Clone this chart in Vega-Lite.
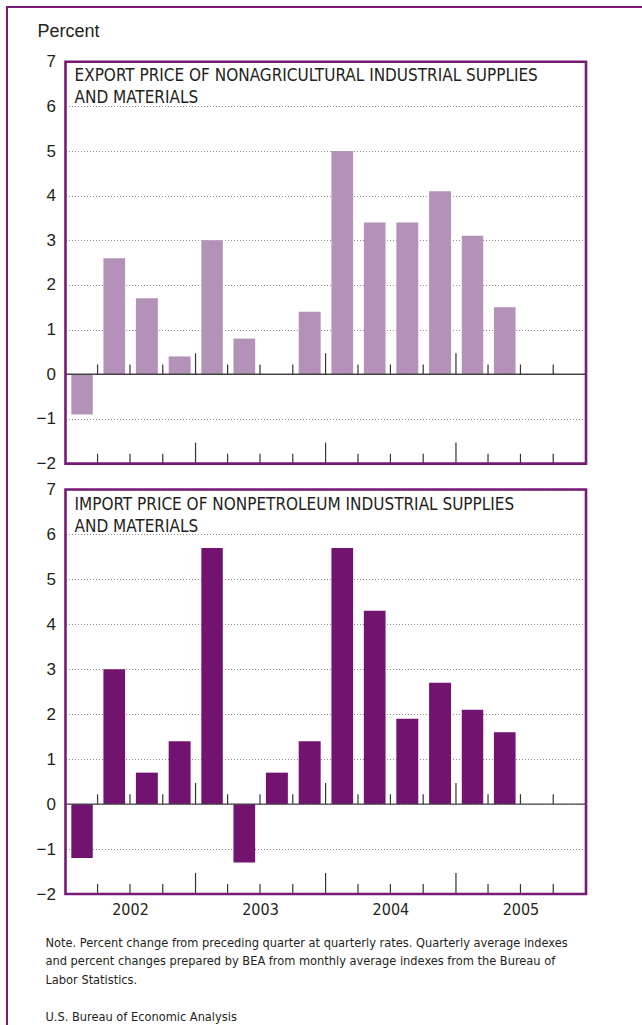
{
  "$schema": "https://vega.github.io/schema/vega-lite/v6.json",
  "width": 635,
  "height": 1018,
  "autosize": "none",
  "padding": {"left": 7, "top": 7, "right": 0, "bottom": 0},
  "background": "white",
  "config": {
    "view": {"stroke": "#771a76", "strokeWidth": 2, "strokeDash": [635, 1653, 1018]},
    "axis": {"domain": false, "ticks": false, "labelColor": "#231f20", "labelFont": "Liberation Sans", "labelFontSize": 17}
  },
  "datasets": {
    "quarters": [
      {"date": "2002-01-01", "export": -0.9, "import": -1.2},
      {"date": "2002-04-01", "export": 2.6, "import": 3.0},
      {"date": "2002-07-01", "export": 1.7, "import": 0.7},
      {"date": "2002-10-01", "export": 0.4, "import": 1.4},
      {"date": "2003-01-01", "export": 3.0, "import": 5.7},
      {"date": "2003-04-01", "export": 0.8, "import": -1.3},
      {"date": "2003-07-01", "export": 0.0, "import": 0.7},
      {"date": "2003-10-01", "export": 1.4, "import": 1.4},
      {"date": "2004-01-01", "export": 5.0, "import": 5.7},
      {"date": "2004-04-01", "export": 3.4, "import": 4.3},
      {"date": "2004-07-01", "export": 3.4, "import": 1.9},
      {"date": "2004-10-01", "export": 4.1, "import": 2.7},
      {"date": "2005-01-01", "export": 3.1, "import": 2.1},
      {"date": "2005-04-01", "export": 1.5, "import": 1.6}
    ],
    "bounds": [
      {"date": "2002-04-01", "edge": "quarter"},
      {"date": "2002-07-01", "edge": "quarter"},
      {"date": "2002-10-01", "edge": "quarter"},
      {"date": "2003-01-01", "edge": "year"},
      {"date": "2003-04-01", "edge": "quarter"},
      {"date": "2003-07-01", "edge": "quarter"},
      {"date": "2003-10-01", "edge": "quarter"},
      {"date": "2004-01-01", "edge": "year"},
      {"date": "2004-04-01", "edge": "quarter"},
      {"date": "2004-07-01", "edge": "quarter"},
      {"date": "2004-10-01", "edge": "quarter"},
      {"date": "2005-01-01", "edge": "year"},
      {"date": "2005-04-01", "edge": "quarter"},
      {"date": "2005-07-01", "edge": "quarter"},
      {"date": "2005-10-01", "edge": "quarter"}
    ]
  },
  "resolve": {"scale": {"y": "independent"}, "axis": {"y": "independent"}},
  "layer": [
    {
      "layer": [
        {
          "data": {"name": "quarters"},
          "mark": {"type": "bar", "width": {"band": 0.7}, "color": "#b491b9"},
          "encoding": {
            "x": {"field": "date", "timeUnit": "utcyearquarter", "type": "temporal",
                  "scale": {"type": "utc", "domain": [{"year": 2002, "month": 1, "date": 1, "utc": true}, {"year": 2006, "month": 1, "date": 1, "utc": true}], "range": [58.5, 579], "nice": false}},
            "y": {"field": "export", "type": "quantitative",
                  "scale": {"domain": [-2, 7], "range": [456.6, 54.7], "nice": false, "zero": false},
                  "axis": {"orient": "left", "offset": -57.5, "values": [-2, -1, 0, 1, 2, 3, 4, 5, 6, 7], "format": "d",
                           "grid": true, "gridDash": [1, 2], "gridColor": "#8a8a8a", "gridWidth": 1, "labelPadding": 9,
                           "title": "Percent", "titleAngle": 0, "titleX": -27.5, "titleY": 29, "titleAlign": "left",
                           "titleBaseline": "alphabetic", "titleFont": "Liberation Sans", "titleFontSize": 18,
                           "titleFontWeight": "normal", "titleColor": "#231f20"}}
          }
        },
        {
          "data": {"values": [{}]},
          "mark": {"type": "rule", "color": "#444444", "strokeWidth": 1.4},
          "encoding": {
            "x": {"datum": {"year": 2002, "month": 1, "date": 1, "utc": true}, "type": "temporal"},
            "x2": {"datum": {"year": 2006, "month": 1, "date": 1, "utc": true}},
            "y": {"datum": 0, "type": "quantitative"}
          }
        },
        {
          "data": {"name": "bounds"},
          "transform": [{"filter": "datum.edge == 'quarter'"}],
          "mark": {"type": "rule", "color": "#333333", "strokeWidth": 1.2},
          "encoding": {
            "x": {"field": "date", "type": "temporal"},
            "y": {"datum": 0, "type": "quantitative"},
            "y2": {"datum": 0.22}
          }
        },
        {
          "data": {"name": "bounds"},
          "transform": [{"filter": "datum.edge == 'year'"}],
          "mark": {"type": "rule", "color": "#333333", "strokeWidth": 1.2},
          "encoding": {
            "x": {"field": "date", "type": "temporal"},
            "y": {"datum": 0, "type": "quantitative"},
            "y2": {"datum": 0.47}
          }
        },
        {
          "data": {"name": "bounds"},
          "transform": [{"filter": "datum.edge == 'quarter'"}],
          "mark": {"type": "rule", "color": "#333333", "strokeWidth": 1.2},
          "encoding": {
            "x": {"field": "date", "type": "temporal"},
            "y": {"datum": -2, "type": "quantitative"},
            "y2": {"datum": -1.78}
          }
        },
        {
          "data": {"name": "bounds"},
          "transform": [{"filter": "datum.edge == 'year'"}],
          "mark": {"type": "rule", "color": "#333333", "strokeWidth": 1.2},
          "encoding": {
            "x": {"field": "date", "type": "temporal"},
            "y": {"datum": -2, "type": "quantitative"},
            "y2": {"datum": -1.53}
          }
        },
        {
          "data": {"values": [{}]},
          "mark": {"type": "rect", "fillOpacity": 0, "stroke": "#771a76", "strokeWidth": 2.6},
          "encoding": {
            "x": {"datum": {"year": 2002, "month": 1, "date": 1, "utc": true}, "type": "temporal"},
            "x2": {"datum": {"year": 2006, "month": 1, "date": 1, "utc": true}},
            "y": {"datum": -2, "type": "quantitative"},
            "y2": {"datum": 7}
          }
        },
        {
          "data": {"values": [{}]},
          "mark": {"type": "text", "text": ["EXPORT PRICE OF NONAGRICULTURAL INDUSTRIAL SUPPLIES", "AND MATERIALS"],
                   "align": "left", "baseline": "alphabetic", "dx": 9, "dy": 19, "lineHeight": 22,
                   "font": "DejaVu Sans Condensed, Liberation Sans", "fontSize": 17, "color": "#231f20"},
          "encoding": {
            "x": {"datum": {"year": 2002, "month": 1, "date": 1, "utc": true}, "type": "temporal"},
            "y": {"datum": 7, "type": "quantitative"}
          }
        }
      ]
    },
    {
      "layer": [
        {
          "data": {"name": "quarters"},
          "mark": {"type": "bar", "width": {"band": 0.7}, "color": "#72136f"},
          "encoding": {
            "x": {"field": "date", "timeUnit": "utcyearquarter", "type": "temporal",
                  "scale": {"type": "utc", "domain": [{"year": 2002, "month": 1, "date": 1, "utc": true}, {"year": 2006, "month": 1, "date": 1, "utc": true}], "range": [58.5, 579], "nice": false},
                  "axis": {"orient": "bottom", "offset": -131,
                           "values": [{"year": 2002, "month": 7, "date": 1, "utc": true}, {"year": 2003, "month": 7, "date": 1, "utc": true}, {"year": 2004, "month": 7, "date": 1, "utc": true}, {"year": 2005, "month": 7, "date": 1, "utc": true}],
                           "format": "%Y", "grid": false, "labelFont": "DejaVu Sans Condensed, Liberation Sans", "labelFontSize": 16, "labelPadding": 7,
                           "title": ["Note.  Percent change from preceding quarter at quarterly rates. Quarterly average indexes", "and percent changes prepared by BEA from monthly average indexes from the Bureau of", "Labor Statistics."],
                           "titleAnchor": "start", "titleAlign": "left", "titleBaseline": "alphabetic", "titleX": 38, "titleY": 52,
                           "titleLineHeight": 18.5, "titleFont": "DejaVu Sans Condensed, Liberation Sans", "titleFontSize": 12.7, "titleFontWeight": "normal", "titleColor": "#231f20"}},
            "y": {"field": "import", "type": "quantitative",
                  "scale": {"domain": [-2, 7], "range": [887, 482.5], "nice": false, "zero": false},
                  "axis": {"orient": "left", "offset": -57.5, "values": [-2, -1, 0, 1, 2, 3, 4, 5, 6, 7], "format": "d",
                           "grid": true, "gridDash": [1, 2], "gridColor": "#8a8a8a", "gridWidth": 1, "labelPadding": 9,
                           "title": "U.S. Bureau of Economic Analysis", "titleAngle": 0, "titleX": -19.5, "titleY": 1013,
                           "titleAlign": "left", "titleBaseline": "alphabetic", "titleFont": "DejaVu Sans Condensed, Liberation Sans",
                           "titleFontSize": 12.7, "titleFontWeight": "normal", "titleColor": "#231f20"}}
          }
        },
        {
          "data": {"values": [{}]},
          "mark": {"type": "rule", "color": "#444444", "strokeWidth": 1.4},
          "encoding": {
            "x": {"datum": {"year": 2002, "month": 1, "date": 1, "utc": true}, "type": "temporal"},
            "x2": {"datum": {"year": 2006, "month": 1, "date": 1, "utc": true}},
            "y": {"datum": 0, "type": "quantitative"}
          }
        },
        {
          "data": {"name": "bounds"},
          "transform": [{"filter": "datum.edge == 'quarter'"}],
          "mark": {"type": "rule", "color": "#333333", "strokeWidth": 1.2},
          "encoding": {
            "x": {"field": "date", "type": "temporal"},
            "y": {"datum": 0, "type": "quantitative"},
            "y2": {"datum": 0.22}
          }
        },
        {
          "data": {"name": "bounds"},
          "transform": [{"filter": "datum.edge == 'year'"}],
          "mark": {"type": "rule", "color": "#333333", "strokeWidth": 1.2},
          "encoding": {
            "x": {"field": "date", "type": "temporal"},
            "y": {"datum": 0, "type": "quantitative"},
            "y2": {"datum": 0.47}
          }
        },
        {
          "data": {"name": "bounds"},
          "transform": [{"filter": "datum.edge == 'quarter'"}],
          "mark": {"type": "rule", "color": "#333333", "strokeWidth": 1.2},
          "encoding": {
            "x": {"field": "date", "type": "temporal"},
            "y": {"datum": -2, "type": "quantitative"},
            "y2": {"datum": -1.78}
          }
        },
        {
          "data": {"name": "bounds"},
          "transform": [{"filter": "datum.edge == 'year'"}],
          "mark": {"type": "rule", "color": "#333333", "strokeWidth": 1.2},
          "encoding": {
            "x": {"field": "date", "type": "temporal"},
            "y": {"datum": -2, "type": "quantitative"},
            "y2": {"datum": -1.53}
          }
        },
        {
          "data": {"values": [{}]},
          "mark": {"type": "rect", "fillOpacity": 0, "stroke": "#771a76", "strokeWidth": 2.6},
          "encoding": {
            "x": {"datum": {"year": 2002, "month": 1, "date": 1, "utc": true}, "type": "temporal"},
            "x2": {"datum": {"year": 2006, "month": 1, "date": 1, "utc": true}},
            "y": {"datum": -2, "type": "quantitative"},
            "y2": {"datum": 7}
          }
        },
        {
          "data": {"values": [{}]},
          "mark": {"type": "text", "text": ["IMPORT PRICE OF NONPETROLEUM INDUSTRIAL SUPPLIES", "AND MATERIALS"],
                   "align": "left", "baseline": "alphabetic", "dx": 9, "dy": 20, "lineHeight": 22,
                   "font": "DejaVu Sans Condensed, Liberation Sans", "fontSize": 17, "color": "#231f20"},
          "encoding": {
            "x": {"datum": {"year": 2002, "month": 1, "date": 1, "utc": true}, "type": "temporal"},
            "y": {"datum": 7, "type": "quantitative"}
          }
        }
      ]
    }
  ]
}
